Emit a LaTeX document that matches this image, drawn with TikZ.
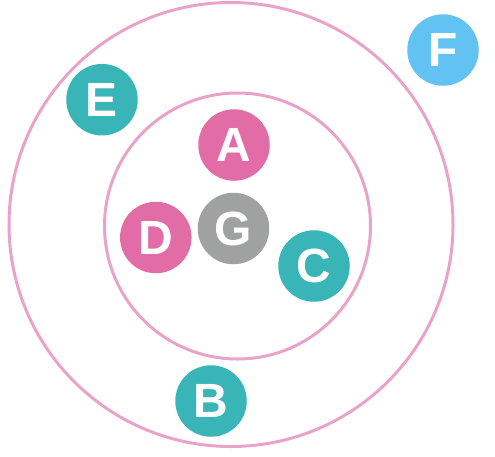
\documentclass[tikz,border=0pt]{standalone}
\usepackage{fontspec}
\setsansfont{Liberation Sans}
\usepackage{tikz}
\usetikzlibrary{positioning}
\definecolor{ringpink}{HTML}{E9A3C9}
\definecolor{dotpink}{HTML}{E26DA6}
\definecolor{dotteal}{HTML}{3AB5B7}
\definecolor{dotgray}{HTML}{A0A1A1}
\definecolor{dotblue}{HTML}{62C3F3}

\begin{document}
\begin{tikzpicture}[
        x=1pt, y=-1pt,
        every node/.style={font=\sffamily},
        ring/.style={circle, draw=ringpink, line width=3pt, inner sep=0pt, minimum size=#1},
        dot/.style={circle, fill=#1, inner sep=0pt, minimum size=71.5pt, text=white, font=\sffamily\bfseries\fontsize{48}{48}\selectfont}
    ]
    \useasboundingbox (0,0) rectangle (495,456);
%
    \node[ring=444pt] (outer) at (231,224.5) {};
    \node[ring=266pt] (inner) at (237.5,226) {};
%
    \node[dot=dotpink] (A) at (234,145) {A};
    \node[dot=dotgray] (G) at (233.5,228.5) {G};
    \node[dot=dotpink] (D) at (155.8,237.5) {D};
    \node[dot=dotteal] (C) at (314,266) {C};
    \node[dot=dotteal] (E) at (102,99.7) {E};
    \node[dot=dotblue] (F) at (443,50) {F};
    \node[dot=dotteal] (B) at (211,401) {B};
%
\end{tikzpicture}
\end{document}
